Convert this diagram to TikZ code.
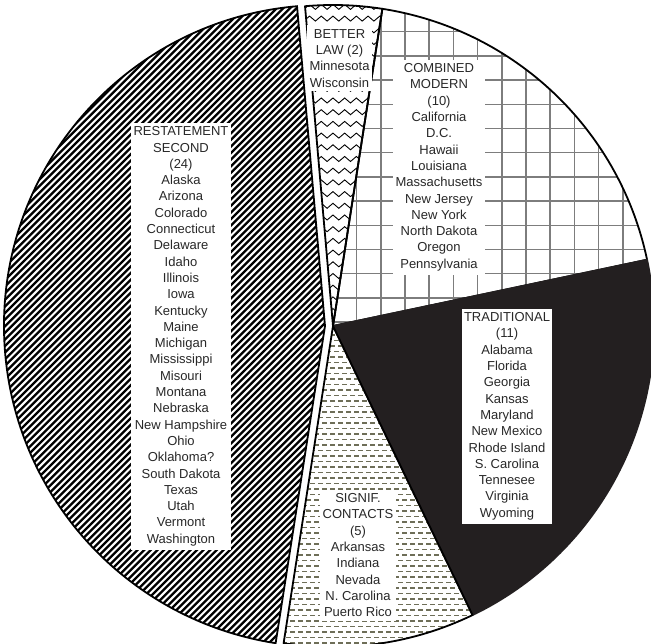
\documentclass[tikz,border=0pt]{standalone}
\usepackage{fontspec}
\setmainfont{Liberation Sans}
\begin{document}
\definecolor{txt}{RGB}{40,40,40}
\definecolor{ink}{RGB}{35,31,32}
\definecolor{gridgray}{RGB}{125,125,125}
\definecolor{dashgray}{RGB}{110,110,88}
% wedge of the pie: apex, start angle, end angle
\newcommand\wedgepath[3]{(#1) -- ++(#2:321pt) arc[start angle=#2, end angle=#3, radius=321pt] -- cycle}
\begin{tikzpicture}[x=1pt,y=1pt,
  rim/.style={draw=black, line width=1.8pt, line join=round},
  tag/.style={fill=white, text=txt, align=center, anchor=north,
    inner xsep=2.5pt, inner ysep=4pt, font=\fontsize{13}{16.3}\selectfont}]
\useasboundingbox (0,0) rectangle (651,643);
\fill[white] (0,0) rectangle (651,643);
\clip (0,0) rectangle (651,643);

\coordinate (O) at (333,317);
\coordinate (Orest) at (325,317);

% Combined modern: square grid
\begin{scope}
  \clip \wedgepath{O}{11.92}{81.15};
  \fill[white] \wedgepath{O}{11.92}{81.15};
  \foreach \x in {332.4,356.6,...,670}
    \draw[gridgray, line width=1.5pt] (\x,280) -- (\x,650);
  \foreach \y in {635.5,611.3,...,280}
    \draw[gridgray, line width=1.5pt] (320,\y) -- (660,\y);
\end{scope}
\draw[rim] \wedgepath{O}{11.92}{81.15};

% Traditional: solid
\fill[ink] \wedgepath{O}{295.77}{371.92};
\draw[rim, draw=ink] \wedgepath{O}{295.77}{371.92};

% Significant contacts: staggered dashes
\begin{scope}
  \clip \wedgepath{O}{261.15}{295.77};
  \foreach \y in {0,11,...,330}
    \draw[dashgray, line width=1.1pt, dash pattern=on 5pt off 3pt] (250,\y) -- (500,\y);
  \foreach \y in {5.5,16.5,...,330}
    \draw[dashgray, line width=1.1pt, dash pattern=on 5pt off 3pt, dash phase=4pt] (250,\y) -- (500,\y);
\end{scope}
\draw[rim] \wedgepath{O}{261.15}{295.77};

% Better law: zigzag rows
\begin{scope}
  \clip \wedgepath{O}{81.15}{95};
  \foreach \y in {306,317.7,...,650}
    \draw[black, line width=0.9pt] (292,\y)
      \foreach \k in {1,...,10}{ -- ++(5.85,5) -- ++(5.85,-5)};
\end{scope}
\draw[rim] \wedgepath{O}{81.15}{95};

% Restatement second: diagonal hatching, pulled out of the pie
\begin{scope}
  \clip \wedgepath{Orest}{95}{261.15};
  \foreach \c in {-660,-653.4,...,340}
    \draw[black, line width=2.3pt] (\c,-5) -- ++(680,680);
\end{scope}
\draw[rim, line join=miter] \wedgepath{Orest}{95}{261.15};

% Labels
\node[tag] (rest) at (181,520.5) {RESTATEMENT\\SECOND\\(24)\\Alaska\\Arizona\\Colorado\\Connecticut\\Delaware\\Idaho\\Illinois\\Iowa\\Kentucky\\Maine\\Michigan\\Mississippi\\Misouri\\Montana\\Nebraska\\New Hampshire\\Ohio\\Oklahoma?\\South Dakota\\Texas\\Utah\\Vermont\\Washington};
\node[tag] (better) at (339.5,618) {BETTER\\LAW (2)\\Minnesota\\Wisconsin};
\node[tag] (comb) at (439,583.6) {COMBINED\\MODERN\\(10)\\California\\D.C.\\Hawaii\\Louisiana\\Massachusetts\\New Jersey\\New York\\North Dakota\\Oregon\\Pennsylvania};
\node[tag] (trad) at (507,334.6) {TRADITIONAL\\(11)\\Alabama\\Florida\\Georgia\\Kansas\\Maryland\\New Mexico\\Rhode Island\\S. Carolina\\Tennesee\\Virginia\\Wyoming};
\node[tag] (signif) at (358,153.6) {SIGNIF.\\CONTACTS\\(5)\\Arkansas\\Indiana\\Nevada\\N. Carolina\\Puerto Rico};
\end{tikzpicture}
\end{document}
